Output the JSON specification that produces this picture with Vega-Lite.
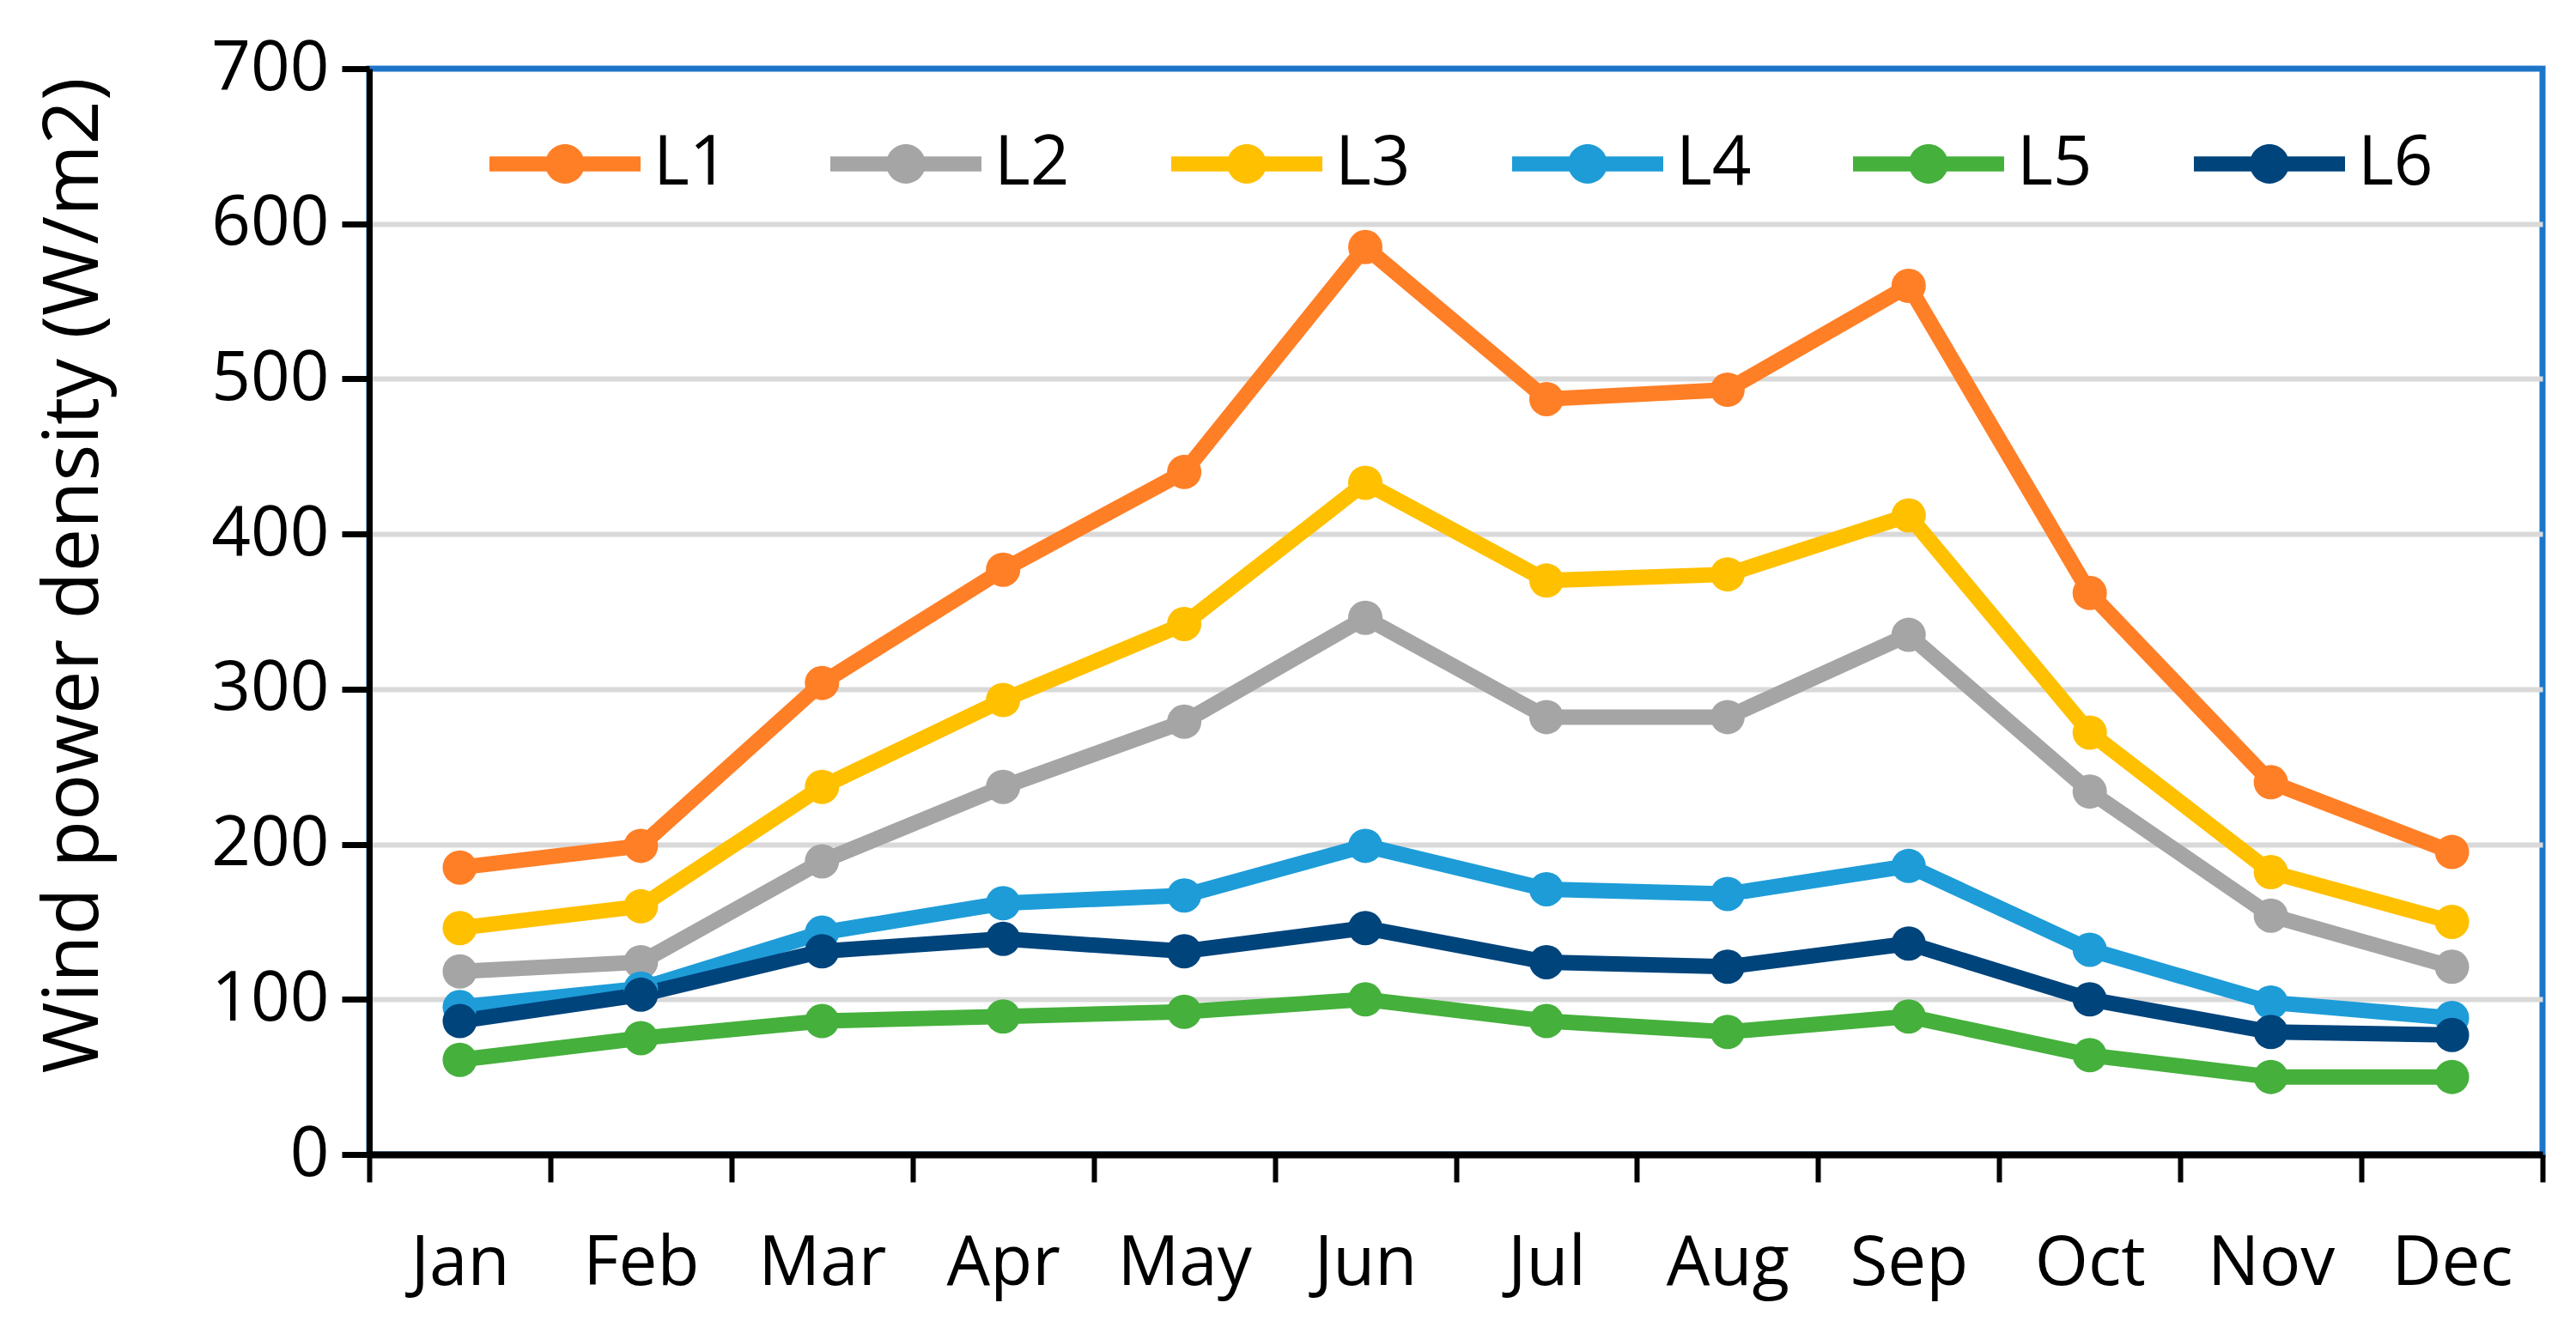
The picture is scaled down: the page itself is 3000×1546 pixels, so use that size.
{
  "$schema": "https://vega.github.io/schema/vega-lite/v6.json",
  "width": 2531,
  "height": 1265,
  "autosize": {"type": "none"},
  "padding": {"left": 430, "top": 80, "right": 39, "bottom": 201},
  "background": "white",
  "config": {
    "font": "Open Sans",
    "view": {"stroke": "#1C75C8", "strokeWidth": 7}
  },
  "data": {
    "values": [
      {"month": "Jan", "series": "L1", "value": 185},
      {"month": "Feb", "series": "L1", "value": 199},
      {"month": "Mar", "series": "L1", "value": 304},
      {"month": "Apr", "series": "L1", "value": 377},
      {"month": "May", "series": "L1", "value": 440},
      {"month": "Jun", "series": "L1", "value": 585},
      {"month": "Jul", "series": "L1", "value": 487},
      {"month": "Aug", "series": "L1", "value": 493},
      {"month": "Sep", "series": "L1", "value": 560},
      {"month": "Oct", "series": "L1", "value": 362},
      {"month": "Nov", "series": "L1", "value": 240},
      {"month": "Dec", "series": "L1", "value": 195},
      {"month": "Jan", "series": "L2", "value": 118},
      {"month": "Feb", "series": "L2", "value": 124},
      {"month": "Mar", "series": "L2", "value": 189},
      {"month": "Apr", "series": "L2", "value": 237},
      {"month": "May", "series": "L2", "value": 279},
      {"month": "Jun", "series": "L2", "value": 346},
      {"month": "Jul", "series": "L2", "value": 282},
      {"month": "Aug", "series": "L2", "value": 282},
      {"month": "Sep", "series": "L2", "value": 335},
      {"month": "Oct", "series": "L2", "value": 234},
      {"month": "Nov", "series": "L2", "value": 154},
      {"month": "Dec", "series": "L2", "value": 121},
      {"month": "Jan", "series": "L3", "value": 146},
      {"month": "Feb", "series": "L3", "value": 160},
      {"month": "Mar", "series": "L3", "value": 237},
      {"month": "Apr", "series": "L3", "value": 293},
      {"month": "May", "series": "L3", "value": 342},
      {"month": "Jun", "series": "L3", "value": 433},
      {"month": "Jul", "series": "L3", "value": 370},
      {"month": "Aug", "series": "L3", "value": 374},
      {"month": "Sep", "series": "L3", "value": 412},
      {"month": "Oct", "series": "L3", "value": 272},
      {"month": "Nov", "series": "L3", "value": 182},
      {"month": "Dec", "series": "L3", "value": 150},
      {"month": "Jan", "series": "L4", "value": 95},
      {"month": "Feb", "series": "L4", "value": 107},
      {"month": "Mar", "series": "L4", "value": 143},
      {"month": "Apr", "series": "L4", "value": 162},
      {"month": "May", "series": "L4", "value": 167},
      {"month": "Jun", "series": "L4", "value": 199},
      {"month": "Jul", "series": "L4", "value": 171},
      {"month": "Aug", "series": "L4", "value": 168},
      {"month": "Sep", "series": "L4", "value": 186},
      {"month": "Oct", "series": "L4", "value": 132},
      {"month": "Nov", "series": "L4", "value": 98},
      {"month": "Dec", "series": "L4", "value": 88},
      {"month": "Jan", "series": "L5", "value": 61},
      {"month": "Feb", "series": "L5", "value": 75},
      {"month": "Mar", "series": "L5", "value": 86},
      {"month": "Apr", "series": "L5", "value": 89},
      {"month": "May", "series": "L5", "value": 92},
      {"month": "Jun", "series": "L5", "value": 100},
      {"month": "Jul", "series": "L5", "value": 86},
      {"month": "Aug", "series": "L5", "value": 79},
      {"month": "Sep", "series": "L5", "value": 89},
      {"month": "Oct", "series": "L5", "value": 64},
      {"month": "Nov", "series": "L5", "value": 50},
      {"month": "Dec", "series": "L5", "value": 50},
      {"month": "Jan", "series": "L6", "value": 86},
      {"month": "Feb", "series": "L6", "value": 103},
      {"month": "Mar", "series": "L6", "value": 131},
      {"month": "Apr", "series": "L6", "value": 139},
      {"month": "May", "series": "L6", "value": 131},
      {"month": "Jun", "series": "L6", "value": 146},
      {"month": "Jul", "series": "L6", "value": 124},
      {"month": "Aug", "series": "L6", "value": 121},
      {"month": "Sep", "series": "L6", "value": 136},
      {"month": "Oct", "series": "L6", "value": 100},
      {"month": "Nov", "series": "L6", "value": 79},
      {"month": "Dec", "series": "L6", "value": 77}
    ]
  },
  "encoding": {
    "x": {
      "field": "month",
      "type": "ordinal",
      "sort": ["Jan", "Feb", "Mar", "Apr", "May", "Jun", "Jul", "Aug", "Sep", "Oct", "Nov", "Dec"],
      "scale": {"type": "band", "paddingInner": 0, "paddingOuter": 0},
      "axis": {
        "title": null,
        "grid": false,
        "labelAngle": 0,
        "labelFontSize": 80,
        "labelColor": "black",
        "labelPadding": 56,
        "domainColor": "black",
        "domainWidth": 8,
        "tickColor": "black",
        "tickWidth": 6,
        "tickSize": 32,
        "tickBand": "extent"
      }
    },
    "y": {
      "field": "value",
      "type": "quantitative",
      "scale": {"domain": [0, 700], "nice": false},
      "axis": {
        "values": [0, 100, 200, 300, 400, 500, 600, 700],
        "grid": true,
        "gridColor": {"condition": {"test": "datum.value === 700 || datum.value === 0", "value": "transparent"}, "value": "#D9D9D9"},
        "gridWidth": 6,
        "domainColor": "black",
        "domainWidth": 7,
        "tickColor": "black",
        "tickWidth": 7,
        "tickSize": 32,
        "labelFontSize": 80,
        "labelColor": "black",
        "labelPadding": 15,
        "title": "Wind power density (W/m2)",
        "titleFontSize": 90,
        "titleFontWeight": "normal",
        "titleColor": "black",
        "titleX": -344,
        "titleY": 590,
        "titleBaseline": "middle"
      }
    },
    "color": {
      "field": "series",
      "type": "nominal",
      "scale": {"domain": ["L1", "L2", "L3", "L4", "L5", "L6"], "range": ["#FF7F27", "#A5A5A5", "#FFC000", "#1E9CD8", "#45B03C", "#00447C"]},
      "legend": {
        "title": null,
        "orient": "none",
        "legendX": 140,
        "legendY": 23,
        "direction": "horizontal",
        "columns": 6,
        "padding": 0,
        "symbolType": "M-1,-0.1H1V0.1H-1Z M0.26,0A0.26,0.26,0,1,1,-0.26,0A0.26,0.26,0,1,1,0.26,0Z",
        "symbolSize": 30976,
        "symbolStrokeWidth": 0,
        "symbolOpacity": 1,
        "labelFontSize": 80,
        "labelColor": "black",
        "labelOffset": 15,
        "labelLimit": 0,
        "columnPadding": 118,
        "encode": {
          "symbols": {
            "update": {
              "fill": {"scale": "color", "field": "value"},
              "stroke": {"value": "transparent"},
              "opacity": {"value": 1}
            }
          }
        }
      }
    }
  },
  "layer": [
    {
      "mark": {"type": "line", "strokeWidth": 18}
    },
    {
      "mark": {"type": "point", "filled": true, "size": 1600, "opacity": 1, "shape": "circle"}
    }
  ]
}
